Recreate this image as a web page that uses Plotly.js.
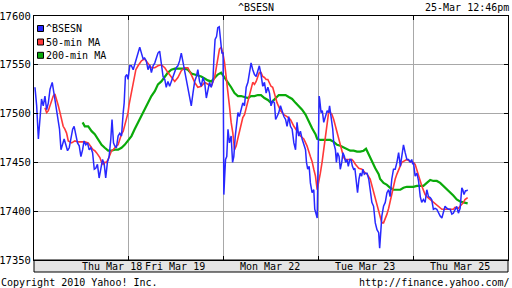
<!DOCTYPE html>
<html><head><meta charset="utf-8">
<script src="https://cdn.plot.ly/plotly-3.0.1.min.js"></script>
<style>html,body{margin:0;padding:0;background:#fff}#chart{width:512px;height:288px}</style>
</head><body><div id="chart"></div>
<script>
// x = trading minutes since open of first session (390 min per session)
const sessionBoundaries = [390, 780, 1170, 1560];
const dayLabels = ["Thu Mar 18", "Fri Mar 19", "Mon Mar 22", "Tue Mar 23", "Thu Mar 25"];
const dayLabelPos = [320, 578, 969, 1363, 1753];
const seriesNames = ["^BSESN", "50-min MA", "200-min MA"];
const seriesColors = ["#2828ff", "#ff3838", "#0aaa0a"];

const priceX = [4,11,18,25,31,38,45,52,59,66,75,82,89,97,105,111,118,124,131,138,145,152,159,165,172,179,186,193,200,206,213,220,227,234,241,248,254,261,268,275,282,289,295,302,309,316,321,327,332,339,346,353,360,367,371,376,382,387,394,401,408,414,421,428,435,442,449,455,462,469,476,483,490,497,503,510,517,524,531,538,544,551,558,565,572,579,585,592,599,606,613,620,626,633,640,647,654,661,668,674,681,688,695,702,709,715,722,729,736,740,745,751,756,762,767,773,778,
781,784,788,793,798,804,811,817,822,828,833,839,845,852,859,866,873,880,886,893,900,907,914,921,927,934,941,948,955,962,969,975,982,989,994,1000,1007,1014,1021,1028,1035,1041,1048,1055,1062,1069,1076,1082,1089,1096,1103,1110,1117,1121,1126,1132,1137,1144,1151,1155,1160,1165,
1173,1175,1181,1186,1192,1199,1206,1212,1216,1222,1229,1233,1240,1244,1249,1255,1260,1266,1271,1277,1282,1288,1293,1299,1304,1310,1315,1320,1326,1331,1337,1342,1348,1353,1359,1364,1370,1377,1383,1390,1397,1404,1411,1418,1422,1426,1431,1438,1445,1452,1459,1465,1472,1479,1486,1493,1500,1507,1513,1520,1527,1534,1541,1548,1554,1558,
1561,1568,1575,1582,1589,1595,1602,1609,1616,1623,1630,1636,1643,1650,1657,1664,1671,1678,1684,1691,1698,1705,1712,1719,1725,1732,1739,1746,1753,1760,1764,1769,1775,1780,1784];
const priceY = [17527,17508,17474,17497,17515,17508,17518,17504,17511,17525,17532,17521,17508,17497,17484,17463,17470,17474,17468,17462,17465,17474,17484,17487,17480,17470,17467,17456,17463,17472,17468,17470,17463,17465,17460,17443,17444,17448,17434,17444,17453,17448,17434,17450,17456,17474,17494,17470,17467,17465,17477,17480,17477,17501,17511,17538,17540,17535,17549,17549,17545,17550,17556,17562,17568,17562,17556,17557,17554,17545,17550,17542,17549,17552,17556,17562,17564,17549,17538,17535,17527,17533,17528,17533,17538,17545,17547,17549,17554,17562,17552,17542,17537,17527,17516,17508,17521,17533,17538,17545,17533,17528,17537,17532,17516,17525,17532,17527,17533,17556,17576,17579,17588,17589,17576,17562,17562,
17417,17433,17453,17456,17484,17470,17477,17450,17456,17477,17487,17501,17497,17504,17511,17508,17527,17532,17540,17552,17545,17540,17538,17545,17549,17540,17528,17532,17521,17527,17521,17508,17513,17511,17494,17497,17501,17508,17501,17497,17494,17487,17497,17487,17484,17470,17463,17491,17477,17482,17474,17467,17463,17450,17443,17446,17429,17419,17422,17402,17398,17393,
17518,17515,17501,17503,17491,17497,17503,17501,17508,17497,17484,17470,17463,17450,17460,17456,17443,17450,17460,17456,17450,17453,17446,17453,17453,17446,17443,17444,17429,17419,17433,17439,17436,17443,17438,17439,17439,17433,17422,17409,17405,17388,17381,17378,17362,17374,17395,17405,17409,17419,17422,17415,17433,17443,17443,17450,17460,17446,17456,17468,17460,17453,17453,17450,17453,17448,
17450,17436,17439,17431,17415,17409,17412,17409,17422,17415,17414,17412,17402,17403,17402,17398,17395,17393,17400,17405,17403,17402,17402,17397,17398,17402,17405,17398,17403,17424,17422,17417,17421,17421,17422];

const ma50X = [45,52,59,66,72,79,86,93,100,107,113,120,127,134,141,155,168,182,196,209,223,230,237,243,250,257,264,271,278,284,291,298,305,312,319,326,332,339,346,353,360,367,373,380,387,391,398,405,412,419,428,435,442,455,469,483,497,510,524,538,551,565,579,592,606,620,633,647,661,674,688,702,715,729,743,750,756,763,770,777,784,791,798,804,811,818,825,832,839,845,852,859,866,873,880,886,893,900,907,914,921,927,934,941,948,955,962,969,975,982,989,1000,1014,1028,1041,1055,1069,1082,1096,1110,1123,1137,1144,1151,1158,1165,1171,1178,1185,1192,1199,1206,1212,1219,1226,1233,1240,1247,1253,1260,1267,1274,1281,1294,1308,1315,1322,1336,1349,1363,1370,1383,1390,1397,1404,1411,1418,1424,1431,1438,1445,1452,1459,1465,1472,1479,1486,1493,1500,1507,1513,1520,1534,1548,1561,1568,1575,1582,1589,1595,1602,1609,1616,1630,1643,1657,1664,1671,1678,1691,1705,1719,1725,1732,1746,1753,1760,1767,1773,1784];
const ma50Y = [17506,17501,17503,17508,17513,17518,17520,17515,17508,17501,17494,17487,17484,17480,17472,17470,17472,17471,17471,17471,17470,17468,17465,17463,17462,17460,17458,17455,17450,17448,17450,17450,17453,17458,17462,17463,17465,17467,17468,17474,17479,17482,17487,17494,17501,17509,17518,17528,17538,17545,17549,17552,17554,17556,17552,17547,17547,17549,17550,17547,17542,17537,17533,17537,17544,17547,17547,17540,17532,17527,17528,17532,17530,17528,17537,17549,17559,17566,17568,17562,17552,17538,17521,17508,17491,17480,17463,17467,17475,17482,17489,17496,17499,17506,17511,17518,17527,17532,17530,17533,17538,17542,17542,17538,17537,17535,17535,17532,17528,17527,17521,17511,17503,17499,17497,17494,17487,17482,17477,17474,17467,17456,17451,17443,17436,17422,17429,17439,17450,17463,17480,17494,17501,17501,17499,17494,17487,17480,17474,17467,17460,17455,17453,17453,17453,17451,17448,17444,17443,17439,17438,17433,17426,17421,17414,17405,17398,17393,17388,17388,17392,17397,17403,17410,17419,17426,17433,17438,17443,17448,17450,17451,17453,17451,17450,17448,17443,17438,17431,17426,17421,17417,17415,17412,17410,17407,17405,17403,17402,17402,17402,17402,17402,17404,17403,17405,17407,17409,17412,17414];

const ma200X = [200,209,223,237,250,264,278,291,305,319,332,346,360,373,387,401,414,428,442,455,469,483,497,510,524,538,551,565,579,592,606,620,633,647,661,674,688,702,715,729,743,756,770,781,791,798,811,825,839,852,866,880,893,907,921,934,948,962,975,994,1007,1021,1035,1048,1062,1076,1089,1103,1117,1130,1144,1158,1165,1178,1199,1219,1233,1247,1260,1274,1288,1301,1315,1329,1342,1356,1366,1377,1390,1404,1418,1424,1438,1452,1465,1479,1493,1507,1520,1534,1548,1561,1575,1589,1602,1616,1630,1643,1657,1671,1684,1698,1712,1725,1739,1753,1767,1784];
const ma200Y = [17491,17487,17487,17482,17479,17474,17468,17465,17462,17462,17463,17463,17465,17468,17473,17477,17484,17491,17497,17504,17511,17518,17523,17530,17533,17538,17542,17545,17546,17546,17546,17546,17545,17541,17540,17539,17538,17536,17534,17533,17537,17540,17542,17538,17535,17532,17527,17521,17518,17518,17517,17516,17518,17518,17519,17519,17516,17514,17511,17516,17519,17519,17519,17517,17515,17511,17508,17504,17499,17492,17485,17479,17474,17473,17473,17473,17471,17468,17467,17465,17463,17462,17462,17461,17461,17462,17464,17458,17451,17444,17438,17433,17429,17427,17424,17422,17422,17422,17424,17425,17425,17425,17426,17426,17426,17429,17432,17431,17431,17429,17426,17423,17420,17416,17412,17410,17409,17408];

const MONO = "DejaVu Sans Mono, monospace";
const plotTop = 16, plotBottom = 260, plotLeft = 34, plotRight = 508;
const ph = plotBottom - plotTop, pw = plotRight - plotLeft;
const py = px => (plotBottom - px) / ph;   // pixel y -> paper y
const pxX = p => (p - plotLeft) / pw;       // pixel x -> paper x

const traces = [
  {x: ma200X, y: ma200Y, name: seriesNames[2], mode: "lines", line: {color: seriesColors[2], width: 2.2}, showlegend: false, hoverinfo: "skip"},
  {x: ma50X, y: ma50Y, name: seriesNames[1], mode: "lines", line: {color: seriesColors[1], width: 1.6}, showlegend: false, hoverinfo: "skip"},
  {x: priceX, y: priceY, name: seriesNames[0], mode: "lines", line: {color: seriesColors[0], width: 1.5}, showlegend: false, hoverinfo: "skip"}
];

const shapes = [
  {type: "rect", xref: "paper", yref: "paper", x0: 0, x1: 1, y0: py(272), y1: 0, fillcolor: "#e4e4e4", line: {color: "#000", width: 1}, layer: "below"}
];
const annotations = [];
dayLabels.forEach((t, i) => annotations.push({text: t, x: dayLabelPos[i], xref: "x", y: py(266.5), yref: "paper", showarrow: false, xanchor: "center", yanchor: "middle", font: {family: MONO, size: 10, color: "#000"}}));
annotations.push({text: "25-Mar 12:46pm", xref: "paper", x: pxX(511), xanchor: "right", yref: "paper", y: py(7), yanchor: "middle", showarrow: false, font: {family: MONO, size: 10, color: "#000"}});
annotations.push({text: "Copyright 2010 Yahoo! Inc.", xref: "paper", x: pxX(-1), xanchor: "left", yref: "paper", y: py(282), yanchor: "middle", showarrow: false, font: {family: MONO, size: 10, color: "#000"}});
annotations.push({text: "http://finance.yahoo.com/", xref: "paper", x: pxX(512), xanchor: "right", yref: "paper", y: py(282), yanchor: "middle", showarrow: false, font: {family: MONO, size: 10, color: "#000"}});
// legend (squares + names)
const legendRows = [28.5, 42, 55.3];
seriesNames.forEach((n, i) => {
  shapes.push({type: "rect", xref: "paper", yref: "paper", x0: pxX(37.5), x1: pxX(43.5), y0: py(legendRows[i] + 3), y1: py(legendRows[i] - 3), fillcolor: seriesColors[i], line: {color: "#000", width: 1}});
  annotations.push({text: n, xref: "paper", x: pxX(44), xanchor: "left", yref: "paper", y: py(legendRows[i]), yanchor: "middle", showarrow: false, font: {family: MONO, size: 10, color: "#000"}});
});

const layout = {
  width: 512, height: 288,
  margin: {l: plotLeft, r: 512 - plotRight, t: plotTop, b: 288 - plotBottom, pad: 0},
  paper_bgcolor: "#fff", plot_bgcolor: "#fff",
  title: {text: "^BSESN", x: 0.5, xref: "container", xanchor: "center", y: 1 - 7 / 288, yref: "container", yanchor: "middle", font: {family: MONO, size: 10, color: "#000"}},
  showlegend: false,
  xaxis: {range: [0, 1950], tickmode: "array", tickvals: sessionBoundaries, showticklabels: false, showgrid: true, gridcolor: "#a8a8a8", gridwidth: 1, ticks: "inside", ticklen: 4, tickcolor: "#000", showline: true, linecolor: "#000", linewidth: 1, mirror: "ticks", zeroline: false, fixedrange: true},
  yaxis: {range: [17350, 17600], tickmode: "linear", tick0: 17350, dtick: 50, showgrid: true, gridcolor: "#a8a8a8", gridwidth: 1, ticks: "inside", ticklen: 4, tickcolor: "#000", showline: true, linecolor: "#000", linewidth: 1, mirror: "ticks", zeroline: false, tickfont: {family: MONO, size: 10.5, color: "#000"}, separatethousands: false, tickformat: "d", fixedrange: true},
  shapes: shapes, annotations: annotations
};
Plotly.newPlot("chart", traces, layout, {staticPlot: true, displayModeBar: false});
</script></body></html>
